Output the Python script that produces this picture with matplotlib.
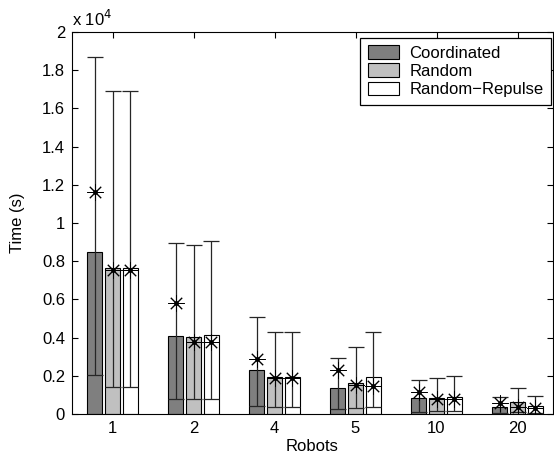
import numpy as np
import matplotlib
matplotlib.use("Agg")
import matplotlib.pyplot as plt

plt.rcParams['font.family'] = ['Liberation Sans', 'DejaVu Sans']

robots = ['1', '2', '4', '5', '10', '20']
series = ['Coordinated', 'Random', 'Random\u2212Repulse']

# bar heights (s)
coord_bar = [8500, 4080, 2300, 1340, 820, 380]
random_bar = [7640, 4010, 1950, 1600, 850, 610]
repulse_bar = [7640, 4120, 1950, 1950, 910, 430]

# star markers
coord_star = [11600, 5800, 2900, 2300, 1140, 590]
random_star = [7540, 3770, 1870, 1520, 790, 380]
repulse_star = [7540, 3770, 1870, 1480, 770, 300]

# error bar upper / lower ends
coord_hi = [18700, 8970, 5060, 2950, 1780, 870]
coord_lo = [2060, 770, 420, 250, 120, 70]
random_hi = [16900, 8870, 4280, 3520, 1870, 1350]
random_lo = [1430, 770, 370, 300, 160, 100]
repulse_hi = [16900, 9070, 4280, 4290, 2010, 960]
repulse_lo = [1430, 770, 370, 370, 170, 50]

bars = [coord_bar, random_bar, repulse_bar]
stars = [coord_star, random_star, repulse_star]
his = [coord_hi, random_hi, repulse_hi]
los = [coord_lo, random_lo, repulse_lo]
colors = ['#7f7f7f', '#c0c0c0', '#ffffff']

fig = plt.figure(figsize=(5.54, 4.58), dpi=100)
ax = fig.add_axes([72/554, 44/458, 481/554, 382/458])

x = np.arange(1, len(robots) + 1)
offs = [-0.222, 0, 0.222]
for i in range(3):
    xi = x + offs[i]
    ax.bar(xi, bars[i], width=0.18, color=colors[i], edgecolor='black',
           linewidth=0.8, label=series[i], zorder=2)
    st = np.array(stars[i])
    yerr = [st - np.array(los[i]), np.array(his[i]) - st]
    ax.errorbar(xi, st, yerr=yerr, fmt='none', ecolor='0.15', elinewidth=0.9,
                capsize=5.5, capthick=0.9, zorder=3)
    ax.plot(xi, st, linestyle='none', marker=(8, 2, 0), markersize=11.5,
            markeredgewidth=0.7, color='black', zorder=4)
    ax.plot(xi, st, linestyle='none', marker='o', markersize=2.5,
            color='black', zorder=5)

ax.set_xlim(0.5, 0.5 + 481/81)
ax.set_ylim(0, 20000)
ax.set_xticks(x)
ax.set_xticklabels(robots)
yt = np.arange(0, 20001, 2000)
ax.set_yticks(yt)
ax.set_yticklabels(['0', '0.2', '0.4', '0.6', '0.8', '1', '1.2', '1.4', '1.6', '1.8', '2'])
ax.tick_params(direction='in', top=True, right=True, length=4, width=0.8,
               labelsize=12, pad=5)
for s in ax.spines.values():
    s.set_linewidth(0.8)

ax.set_xlabel('Robots', fontsize=12, labelpad=2)
ax.set_ylabel('Time (s)', fontsize=12, labelpad=12)
fig.text(72/554, 1 - 19/458, 'x 10$^{4}$', fontsize=12, ha='left', va='center')

leg = ax.legend(loc='upper right', bbox_to_anchor=(551/554, 1 - 37.7/458),
                bbox_transform=fig.transFigure, borderaxespad=0,
                fancybox=False, framealpha=1, edgecolor='black', fontsize=12,
                handlelength=1.9, handleheight=0.9, handletextpad=0.6,
                labelspacing=0.15, borderpad=0.45)
leg.get_frame().set_linewidth(0.9)

fig.savefig('out.png', dpi=100)
